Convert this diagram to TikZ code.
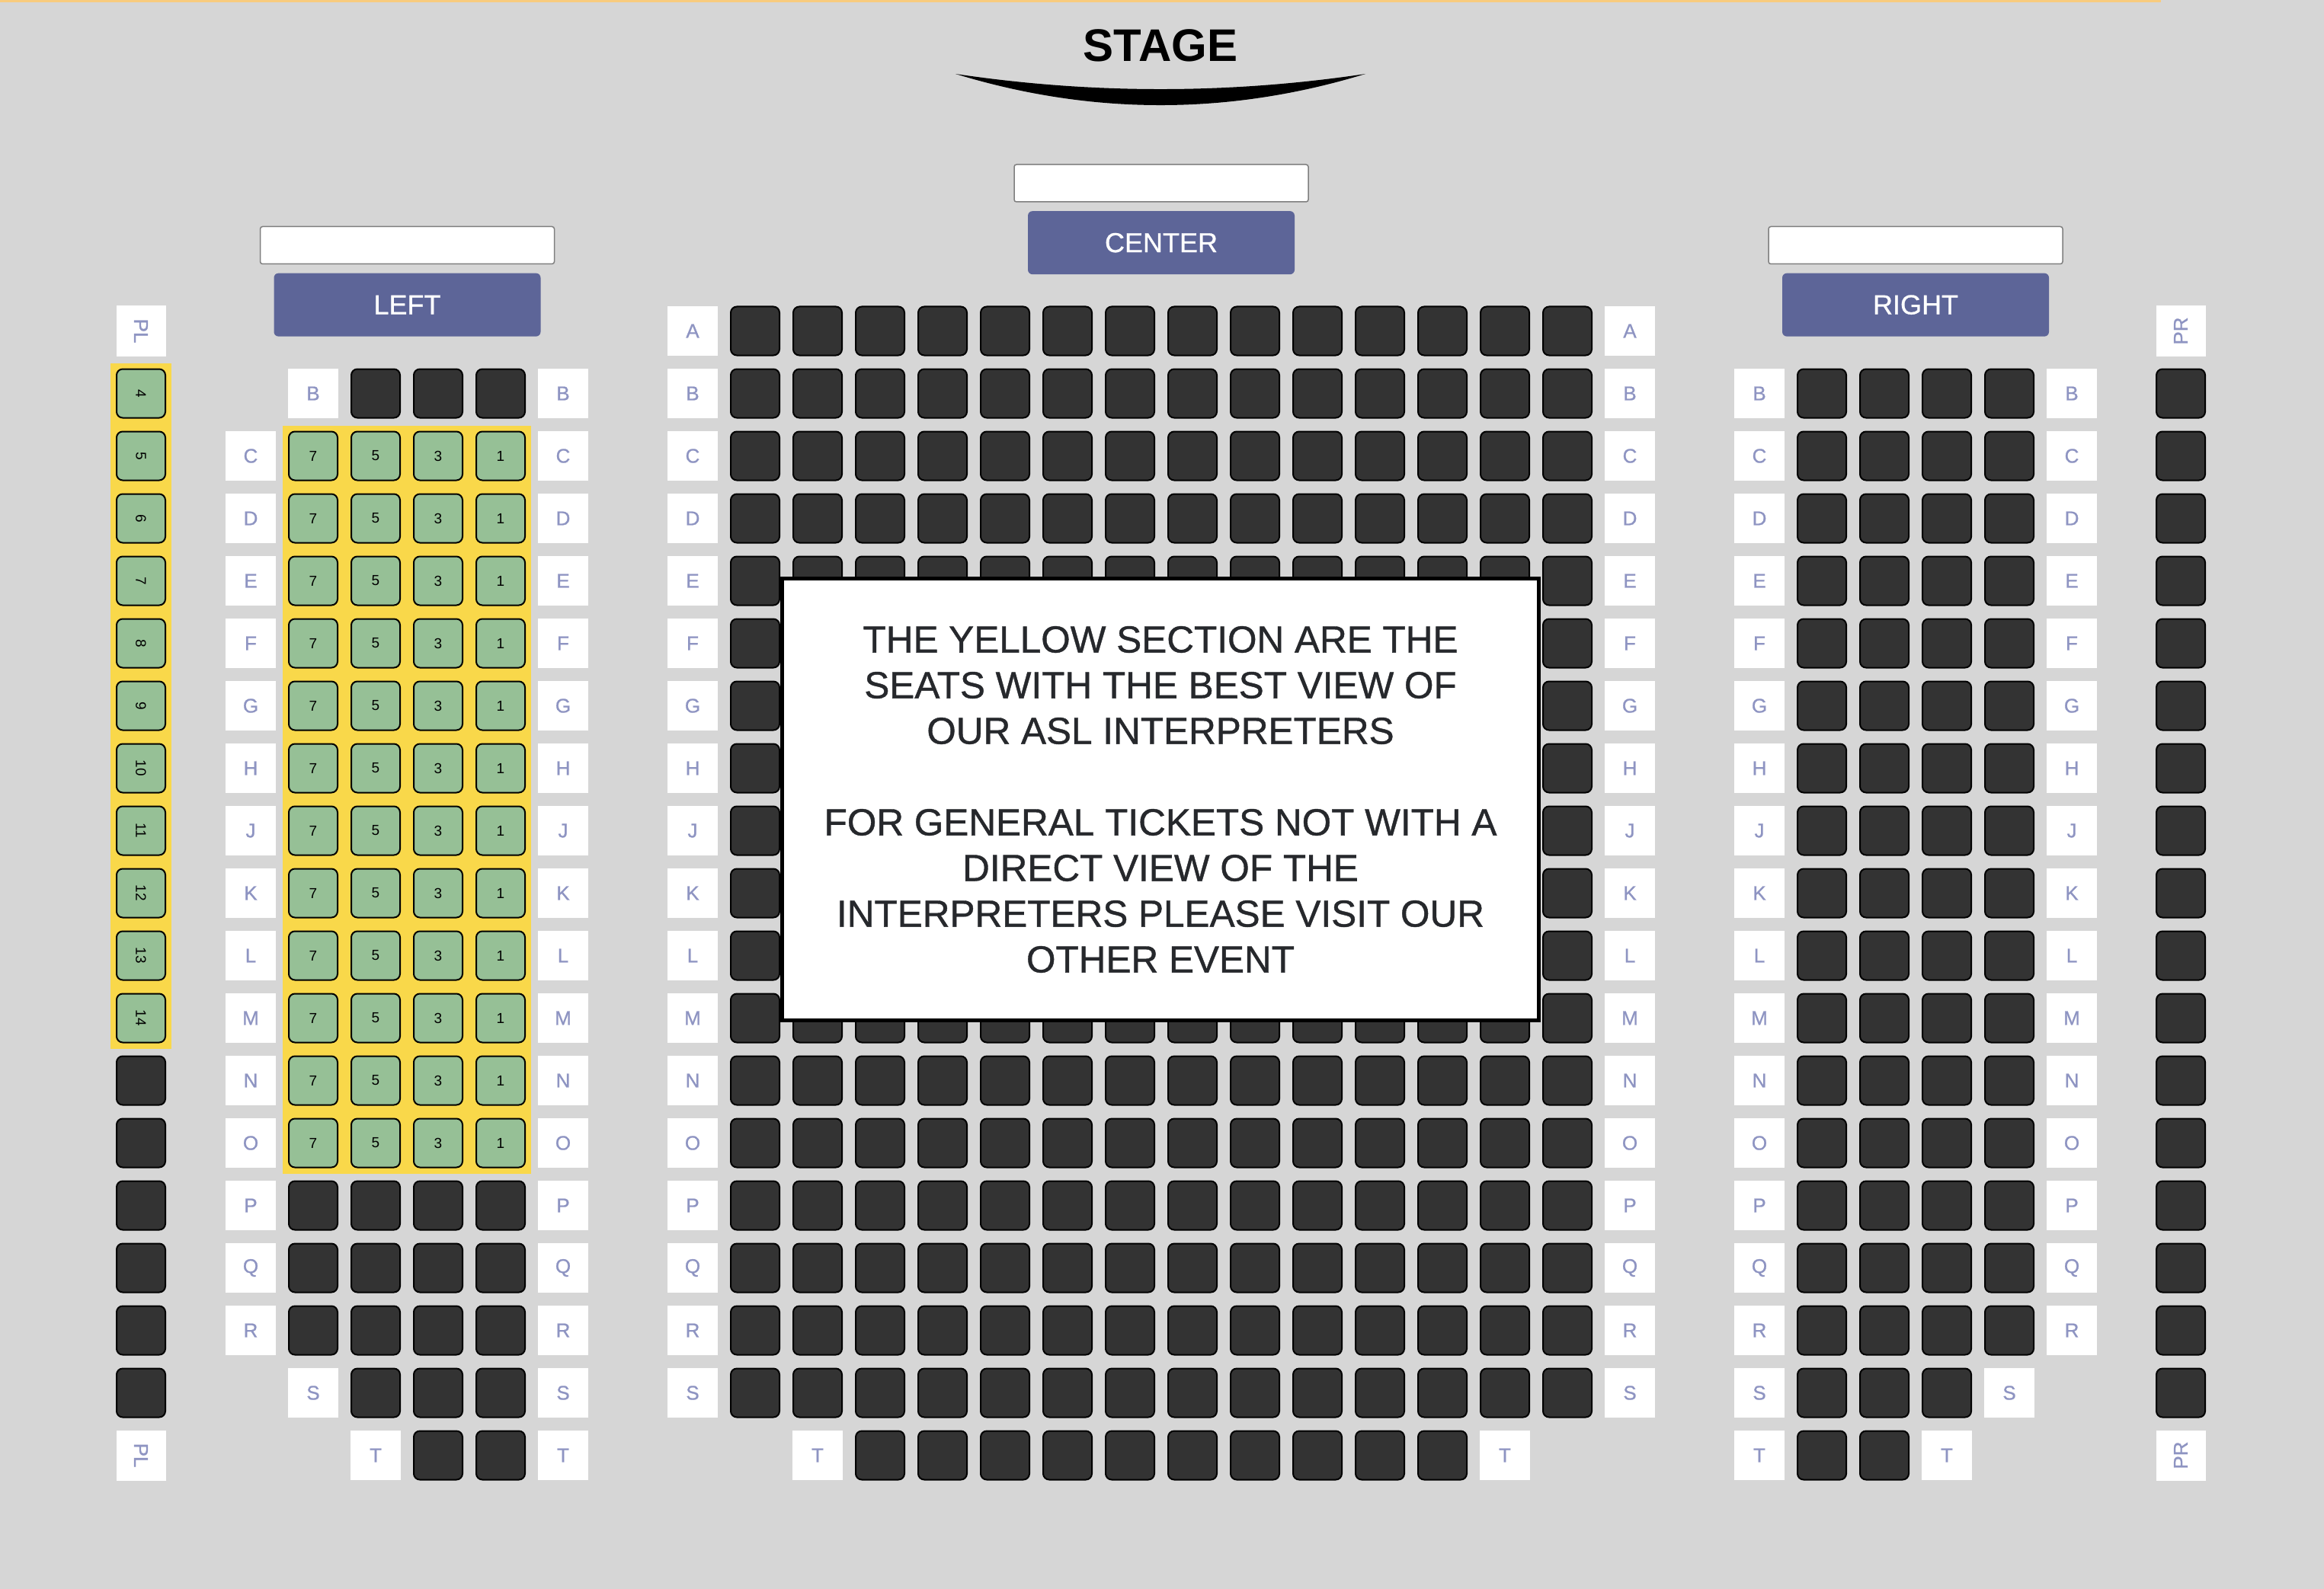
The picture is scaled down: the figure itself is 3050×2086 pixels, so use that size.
\documentclass[tikz,border=0pt]{standalone}
\usepackage{fontspec}
\setmainfont{Liberation Sans}
\newfontfamily\medsans{Liberation Sans}[FakeBold=0.8]
\usetikzlibrary{positioning, fit, backgrounds}

\definecolor{hallgray}{HTML}{D6D6D6}
\definecolor{topline}{HTML}{F8CB7E}
\definecolor{seatdark}{HTML}{333333}
\definecolor{seatgreen}{HTML}{96C096}
\definecolor{aslyellow}{HTML}{F9D84A}
\definecolor{rowtext}{HTML}{8E94C2}
\definecolor{secblue}{HTML}{5D6598}
\definecolor{namegray}{HTML}{7F7F7F}
\definecolor{notetext}{HTML}{26282C}

\begin{document}
\begin{tikzpicture}[
  x=0.5pt, y=-0.5pt,
  seat/.style={draw=black, line width=1pt, rounded corners=4pt, fill=seatdark,
               minimum width=32pt, minimum height=32pt, inner sep=0pt},
  gseat/.style={seat, fill=seatgreen, font=\fontsize{9.5}{11}\selectfont},
  rowlbl/.style={fill=white, minimum width=33pt, minimum height=32.5pt, inner sep=0pt,
                 text=rowtext, font=\medsans\fontsize{13}{15}\selectfont},
  namebox/.style={fill=white, draw=namegray, line width=0.75pt, rounded corners=1.5pt,
                  minimum width=193pt, minimum height=24.5pt, inner sep=0pt},
  sechead/.style={fill=secblue, rounded corners=3pt, minimum width=175pt,
                  minimum height=41.5pt, inner sep=0pt, text=white,
                  font=\medsans\fontsize{18}{20}\selectfont},
  aslzone/.style={fill=aslyellow, inner sep=3.5pt},
]
  \useasboundingbox (0,0) rectangle (3050,2086);
  \begin{pgfonlayer}{background}
    \fill[hallgray] (0,0) rectangle (3050,2086);
  \end{pgfonlayer}
  \fill[topline] (0,0) rectangle (2836,3.5);

  % ═══ Stage ═══════════════════════════════════════════════════
  \node[font=\fontsize{30}{32}\selectfont\bfseries] (stage) at (1523,59.5) {STAGE};
  \fill (1254,97) .. controls (1433,123.7) and (1613,123.7) .. (1792,97)
        .. controls (1613,151.7) and (1433,151.7) .. (1254,97) -- cycle;

  % ═══ Section headers ═════════════════════════════════════════
  \node[namebox] (l-name) at (534.5,322) {};
  \node[sechead, below=5.5pt of l-name] (l-head) {LEFT};
  \node[namebox] (c-name) at (1524,240.5) {};
  \node[sechead, below=5.5pt of c-name] (c-head) {CENTER};
  \node[namebox] (r-name) at (2514,322) {};
  \node[sechead, below=5.5pt of r-name] (r-head) {RIGHT};

  % ═══ PL column (box left) ════════════════════════════════════
  \node[rowlbl, rotate=-90] (pl-top) at (185,434.5) {PL};
  \foreach \n [count=\i from 1] in {4,...,14} {
    \pgfmathsetmacro{\ry}{434.5+82*\i}
    \node[gseat, rotate=-90] (pl-\n) at (185,\ry) {\n};
  }
  \foreach \i in {12,...,17}
    \node[seat] (pl-d\i) at (185,{434.5+82*\i}) {};
  \node[rowlbl, rotate=-90] (pl-bot) at (185,1910.5) {PL};

  % ═══ LEFT section ════════════════════════════════════════════
  % row B
  \node[rowlbl] (l-B-l) at (411,516.5) {B};
  \foreach \c in {2,3,4}
    \node[seat] (l-B-\c) at ({329+82*\c},516.5) {};
  \node[rowlbl] (l-B-r) at (739,516.5) {B};
  % rows C--O: interpreter view, seats 7 5 3 1
  \foreach \r [count=\i from 2] in {C,D,E,F,G,H,J,K,L,M,N,O} {
    \pgfmathsetmacro{\ry}{434.5+82*\i}
    \node[rowlbl] (l-\r-l) at (329,\ry) {\r};
    \foreach \c/\n in {1/7,2/5,3/3,4/1}
      \node[gseat] (l-\r-\n) at ({329+82*\c},\ry) {\n};
    \node[rowlbl] (l-\r-r) at (739,\ry) {\r};
  }
  % rows P--R
  \foreach \r [count=\i from 14] in {P,Q,R} {
    \pgfmathsetmacro{\ry}{434.5+82*\i}
    \node[rowlbl] (l-\r-l) at (329,\ry) {\r};
    \foreach \c in {1,...,4}
      \node[seat] (l-\r-\c) at ({329+82*\c},\ry) {};
    \node[rowlbl] (l-\r-r) at (739,\ry) {\r};
  }
  % rows S, T
  \node[rowlbl] (l-S-l) at (411,1828.5) {S};
  \foreach \c in {2,3,4}
    \node[seat] (l-S-\c) at ({329+82*\c},1828.5) {};
  \node[rowlbl] (l-S-r) at (739,1828.5) {S};
  \node[rowlbl] (l-T-l) at (493,1910.5) {T};
  \foreach \c in {3,4}
    \node[seat] (l-T-\c) at ({329+82*\c},1910.5) {};
  \node[rowlbl] (l-T-r) at (739,1910.5) {T};

  % yellow zones
  \begin{pgfonlayer}{background}
    \node[aslzone, fit=(pl-4)(pl-14)] (pl-zone) {};
    \node[aslzone, fit=(l-C-7)(l-O-1)] (l-zone) {};
  \end{pgfonlayer}

  % ═══ CENTER section ══════════════════════════════════════════
  \foreach \r [count=\i from 0] in {A,B,C,D,E,F,G,H,J,K,L,M,N,O,P,Q,R,S} {
    \pgfmathsetmacro{\ry}{434.5+82*\i}
    \node[rowlbl] (c-\r-l) at (909,\ry) {\r};
    \foreach \s in {0,...,13}
      \node[seat] (c-\r-\s) at ({991+82*\s},\ry) {};
    \node[rowlbl] (c-\r-r) at (2139,\ry) {\r};
  }
  \node[rowlbl] (c-T-l) at (1073,1910.5) {T};
  \foreach \s in {2,...,11}
    \node[seat] (c-T-\s) at ({991+82*\s},1910.5) {};
  \node[rowlbl] (c-T-r) at (1975,1910.5) {T};

  % notice over the middle block
  \node[draw=black, line width=2.5pt, fill=white, minimum width=496.5pt,
        minimum height=290pt, align=center, text=notetext,
        font=\medsans\fontsize{24.75}{30}\selectfont] (note) at (1523,1049.5)
    {THE YELLOW SECTION ARE THE\\SEATS WITH THE BEST VIEW OF\\OUR ASL INTERPRETERS\\[30pt]
     FOR GENERAL TICKETS NOT WITH A\\DIRECT VIEW OF THE\\INTERPRETERS PLEASE VISIT OUR\\OTHER EVENT};

  % ═══ RIGHT section ═══════════════════════════════════════════
  \foreach \r [count=\i from 1] in {B,C,D,E,F,G,H,J,K,L,M,N,O,P,Q,R} {
    \pgfmathsetmacro{\ry}{434.5+82*\i}
    \node[rowlbl] (r-\r-l) at (2309,\ry) {\r};
    \foreach \c in {1,...,4}
      \node[seat] (r-\r-\c) at ({2309+82*\c},\ry) {};
    \node[rowlbl] (r-\r-r) at (2719,\ry) {\r};
  }
  \node[rowlbl] (r-S-l) at (2309,1828.5) {S};
  \foreach \c in {1,2,3}
    \node[seat] (r-S-\c) at ({2309+82*\c},1828.5) {};
  \node[rowlbl] (r-S-r) at (2637,1828.5) {S};
  \node[rowlbl] (r-T-l) at (2309,1910.5) {T};
  \foreach \c in {1,2}
    \node[seat] (r-T-\c) at ({2309+82*\c},1910.5) {};
  \node[rowlbl] (r-T-r) at (2555,1910.5) {T};

  % ═══ PR column (box right) ═══════════════════════════════════
  \node[rowlbl, rotate=90] (pr-top) at (2862,434.5) {PR};
  \foreach \i in {1,...,17}
    \node[seat] (pr-\i) at (2862,{434.5+82*\i}) {};
  \node[rowlbl, rotate=90] (pr-bot) at (2862,1910.5) {PR};
\end{tikzpicture}
\end{document}
